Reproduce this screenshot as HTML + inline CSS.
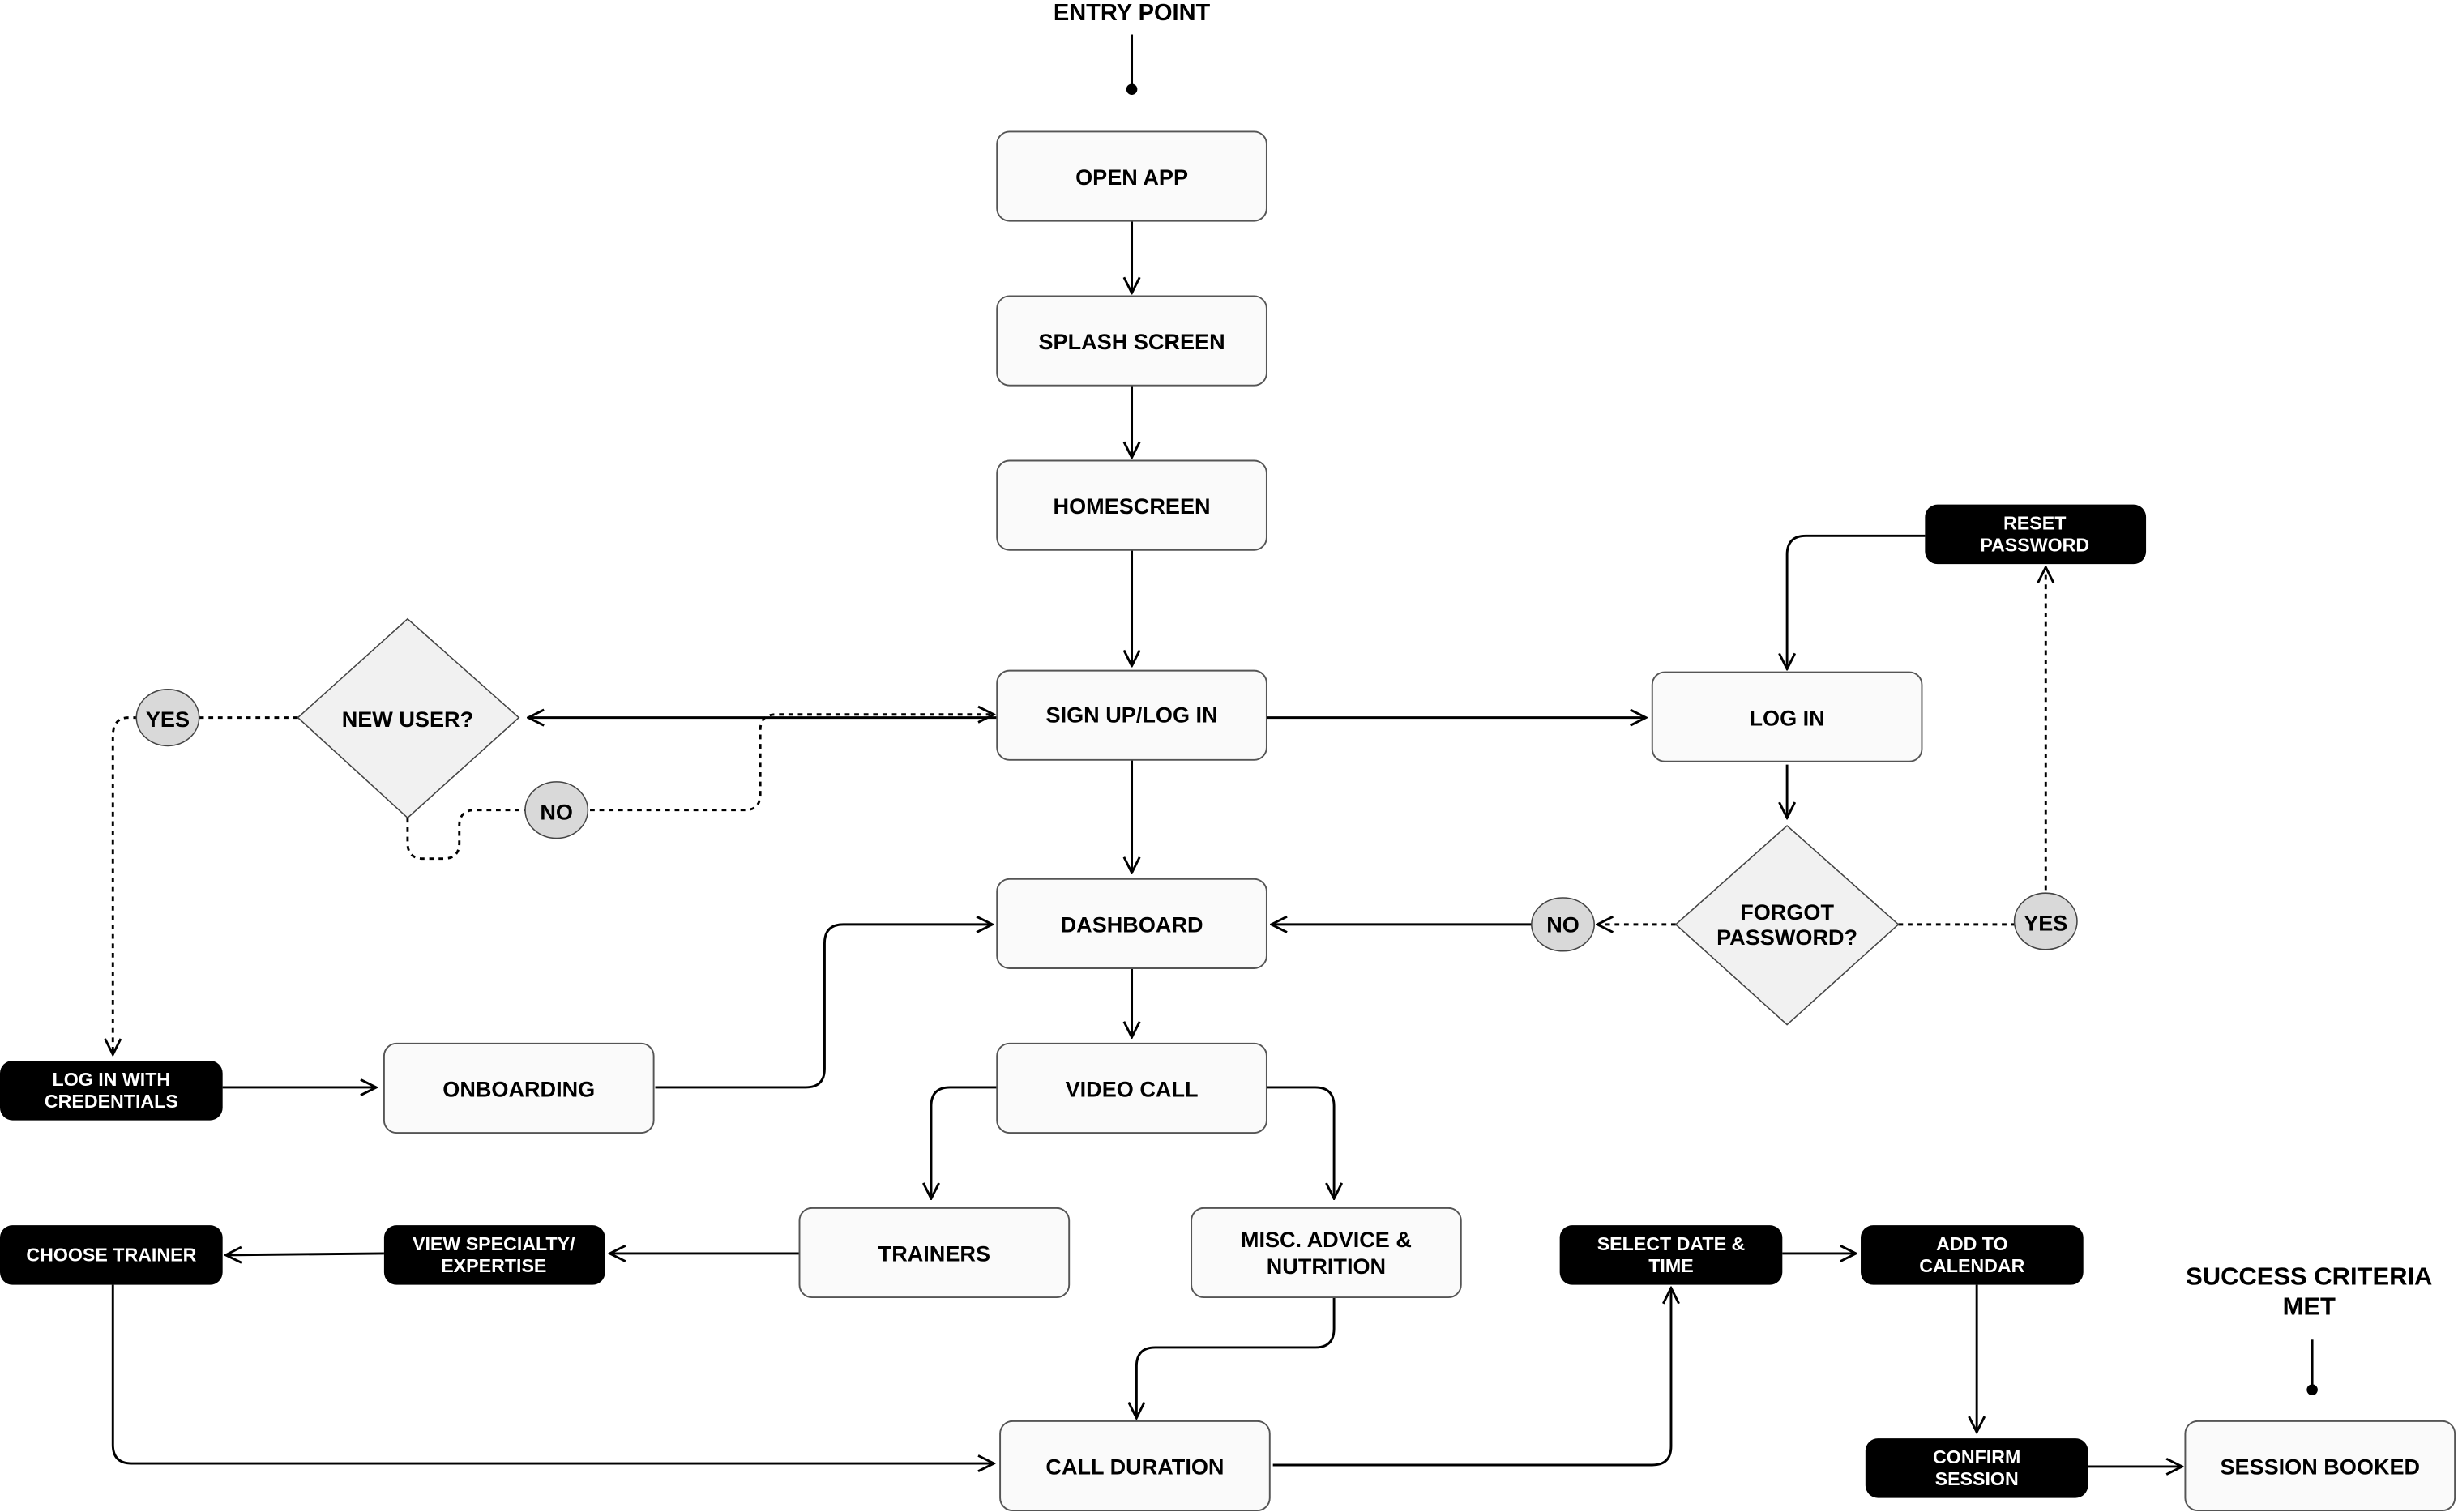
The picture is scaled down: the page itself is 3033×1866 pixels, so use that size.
<!DOCTYPE html>
<html><head><meta charset="utf-8"><style>html,body{margin:0;padding:0;background:#fff}svg{display:block}</style></head>
<body>
<svg width="3033" height="1866" viewBox="0 0 1568 965" preserveAspectRatio="none" xmlns="http://www.w3.org/2000/svg" font-family="Liberation Sans, Arial, sans-serif" font-weight="bold">
<defs>
<marker id="a" viewBox="0 0 12 12" refX="11" refY="6" markerWidth="12" markerHeight="12" markerUnits="userSpaceOnUse" orient="auto"><path d="M1,1 L11,6 L1,11" fill="none" stroke="#000" stroke-width="1.5"/></marker>
</defs>
<g fill="none" stroke="#000" stroke-width="1.5">
<line x1="722" y1="22" x2="722" y2="57"/>
<line x1="722" y1="141" x2="722" y2="187" marker-end="url(#a)"/>
<line x1="722" y1="246" x2="722" y2="292" marker-end="url(#a)"/>
<line x1="722" y1="351" x2="722" y2="425" marker-end="url(#a)"/>
<line x1="636" y1="458" x2="337" y2="458" marker-end="url(#a)"/>
<line x1="808" y1="458" x2="1050" y2="458" marker-end="url(#a)"/>
<line x1="722" y1="485" x2="722" y2="557" marker-end="url(#a)"/>
<line x1="1140" y1="488" x2="1140" y2="522" marker-end="url(#a)"/>
<line x1="977" y1="590" x2="811" y2="590" marker-end="url(#a)"/>
<path d="M1228,342 H1152 Q1140,342 1140,354 V427" marker-end="url(#a)"/>
<path d="M418,694 H514 Q526,694 526,682 V602 Q526,590 538,590 H633" marker-end="url(#a)"/>
<line x1="142" y1="694" x2="240" y2="694" marker-end="url(#a)"/>
<line x1="722" y1="618" x2="722" y2="662" marker-end="url(#a)"/>
<path d="M636,694 H606 Q594,694 594,706 V765" marker-end="url(#a)"/>
<path d="M808,694 H839 Q851,694 851,706 V765" marker-end="url(#a)"/>
<line x1="510" y1="800" x2="389" y2="800" marker-end="url(#a)"/>
<line x1="245" y1="800" x2="144" y2="801" marker-end="url(#a)"/>
<path d="M72,820 V922 Q72,934 84,934 H634" marker-end="url(#a)"/>
<path d="M851,828 V848 Q851,860 839,860 H737 Q725,860 725,872 V905" marker-end="url(#a)"/>
<path d="M812,935 H1054 Q1066,935 1066,923 V822" marker-end="url(#a)"/>
<line x1="1137" y1="800" x2="1184" y2="800" marker-end="url(#a)"/>
<line x1="1261" y1="820" x2="1261" y2="914" marker-end="url(#a)"/>
<line x1="1332" y1="936" x2="1392" y2="936" marker-end="url(#a)"/>
<line x1="1475" y1="855" x2="1475" y2="887"/>
</g>
<g fill="none" stroke="#000" stroke-width="1.5" stroke-dasharray="3,3">
<path d="M190,458 H82 Q72,458 72,470 V673" marker-end="url(#a)"/>
<path d="M260,522 V538 Q260,548 270,548 H283 Q293,548 293,538 V527 Q293,517 303,517 H475 Q485,517 485,507 V466 Q485,456 495,456 H634" marker-end="url(#a)"/>
<line x1="1069" y1="590" x2="1019" y2="590" marker-end="url(#a)"/>
<line x1="1211" y1="590" x2="1290" y2="590"/>
<line x1="1305" y1="580" x2="1305" y2="362" marker-end="url(#a)"/>
</g>
<circle cx="722" cy="57" r="3.5"/>
<circle cx="1475" cy="887" r="3.5"/>
<g fill="#fafafa" stroke="#555" stroke-width="1">
<rect x="636" y="84" width="172" height="57" rx="8"/>
<rect x="636" y="189" width="172" height="57" rx="8"/>
<rect x="636" y="294" width="172" height="57" rx="8"/>
<rect x="636" y="428" width="172" height="57" rx="8"/>
<rect x="1054" y="429" width="172" height="57" rx="8"/>
<rect x="636" y="561" width="172" height="57" rx="8"/>
<rect x="245" y="666" width="172" height="57" rx="8"/>
<rect x="636" y="666" width="172" height="57" rx="8"/>
<rect x="510" y="771" width="172" height="57" rx="8"/>
<rect x="760" y="771" width="172" height="57" rx="8"/>
<rect x="638" y="907" width="172" height="57" rx="8"/>
<rect x="1394" y="907" width="172" height="57" rx="8"/>
</g>
<g fill="#f1f1f1" stroke="#444" stroke-width="0.8">
<polygon points="260,395 331,458 260,522 190,458"/>
<polygon points="1140,527 1211,590 1140,654 1069,590"/>
</g>
<g fill="#d9d9d9" stroke="#444" stroke-width="0.8">
<ellipse cx="107" cy="458" rx="20" ry="18"/>
<ellipse cx="355" cy="517" rx="20" ry="18"/>
<ellipse cx="997" cy="590" rx="20" ry="17"/>
<ellipse cx="1305" cy="588" rx="20" ry="18"/>
</g>
<g fill="#000">
<rect x="1228" y="322" width="141" height="38" rx="8"/>
<rect x="0" y="677" width="142" height="38" rx="8"/>
<rect x="245" y="782" width="141" height="38" rx="8"/>
<rect x="0" y="782" width="142" height="38" rx="8"/>
<rect x="995" y="782" width="142" height="38" rx="8"/>
<rect x="1187" y="782" width="142" height="38" rx="8"/>
<rect x="1190" y="918" width="142" height="38" rx="8"/>
</g>
<g font-size="14" text-anchor="middle" fill="#000">
<text x="722" y="13" font-size="15">ENTRY POINT</text>
<text x="722" y="118">OPEN APP</text>
<text x="722" y="223">SPLASH SCREEN</text>
<text x="722" y="328">HOMESCREEN</text>
<text x="722" y="461">SIGN UP/LOG IN</text>
<text x="1140" y="463">LOG IN</text>
<text x="722" y="595">DASHBOARD</text>
<text x="331" y="700">ONBOARDING</text>
<text x="722" y="700">VIDEO CALL</text>
<text x="596" y="805">TRAINERS</text>
<text x="846" y="796">MISC. ADVICE &amp;</text>
<text x="846" y="813">NUTRITION</text>
<text x="724" y="941">CALL DURATION</text>
<text x="1480" y="941">SESSION BOOKED</text>
<text x="260" y="464">NEW USER?</text>
<text x="1140" y="587">FORGOT</text>
<text x="1140" y="603">PASSWORD?</text>
<text x="107" y="464">YES</text>
<text x="355" y="523">NO</text>
<text x="997" y="595">NO</text>
<text x="1305" y="594">YES</text>
<text x="1473" y="820" font-size="16">SUCCESS CRITERIA</text>
<text x="1473" y="839" font-size="16">MET</text>
</g>
<g font-size="12" text-anchor="middle" fill="#fff">
<text x="1298" y="338">RESET</text>
<text x="1298" y="352">PASSWORD</text>
<text x="71" y="693">LOG IN WITH</text>
<text x="71" y="707">CREDENTIALS</text>
<text x="315" y="798">VIEW SPECIALTY/</text>
<text x="315" y="812">EXPERTISE</text>
<text x="71" y="805">CHOOSE TRAINER</text>
<text x="1066" y="798">SELECT DATE &amp;</text>
<text x="1066" y="812">TIME</text>
<text x="1258" y="798">ADD TO</text>
<text x="1258" y="812">CALENDAR</text>
<text x="1261" y="934">CONFIRM</text>
<text x="1261" y="948">SESSION</text>
</g>
</svg>
</body></html>
